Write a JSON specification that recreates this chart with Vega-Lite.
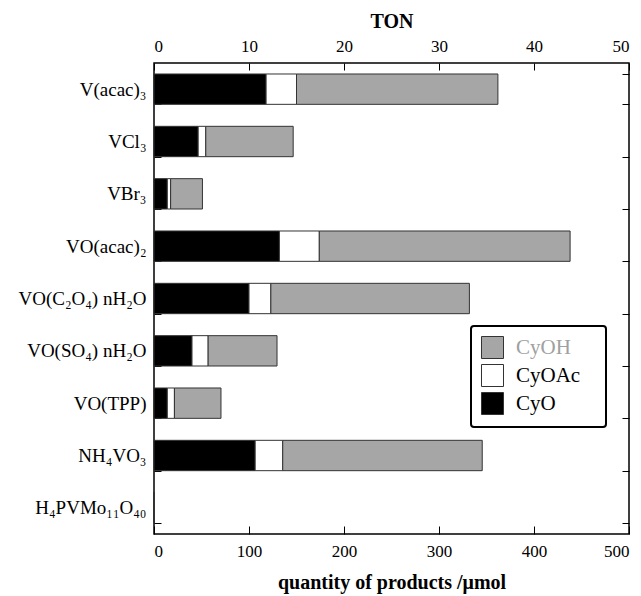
{
  "$schema": "https://vega.github.io/schema/vega-lite/v6.json",
  "autosize": {"type": "none"},
  "width": 475,
  "height": 471,
  "padding": {"left": 154, "top": 63, "right": 12, "bottom": 62},
  "background": "white",
  "config": {
    "view": {"stroke": "#000", "strokeWidth": 1.5},
    "font": "Liberation Serif",
    "axis": {"labelFont": "Liberation Serif", "titleFont": "Liberation Serif", "labelColor": "#000", "titleColor": "#000", "tickColor": "#000", "grid": false, "domain": false}
  },
  "data": {"values": [
    {"cat": "V(acac)₃", "product": "CyO", "value": 118},
    {"cat": "V(acac)₃", "product": "CyOAc", "value": 32},
    {"cat": "V(acac)₃", "product": "CyOH", "value": 212},
    {"cat": "VCl₃", "product": "CyO", "value": 46.5},
    {"cat": "VCl₃", "product": "CyOAc", "value": 8},
    {"cat": "VCl₃", "product": "CyOH", "value": 92},
    {"cat": "VBr₃", "product": "CyO", "value": 14},
    {"cat": "VBr₃", "product": "CyOAc", "value": 3.5},
    {"cat": "VBr₃", "product": "CyOH", "value": 33.5},
    {"cat": "VO(acac)₂", "product": "CyO", "value": 132},
    {"cat": "VO(acac)₂", "product": "CyOAc", "value": 42},
    {"cat": "VO(acac)₂", "product": "CyOH", "value": 264},
    {"cat": "VO(C₂O₄) nH₂O", "product": "CyO", "value": 100},
    {"cat": "VO(C₂O₄) nH₂O", "product": "CyOAc", "value": 23},
    {"cat": "VO(C₂O₄) nH₂O", "product": "CyOH", "value": 209},
    {"cat": "VO(SO₄) nH₂O", "product": "CyO", "value": 40},
    {"cat": "VO(SO₄) nH₂O", "product": "CyOAc", "value": 17},
    {"cat": "VO(SO₄) nH₂O", "product": "CyOH", "value": 72.5},
    {"cat": "VO(TPP)", "product": "CyO", "value": 14},
    {"cat": "VO(TPP)", "product": "CyOAc", "value": 7.5},
    {"cat": "VO(TPP)", "product": "CyOH", "value": 49},
    {"cat": "NH₄VO₃", "product": "CyO", "value": 106.5},
    {"cat": "NH₄VO₃", "product": "CyOAc", "value": 29},
    {"cat": "NH₄VO₃", "product": "CyOH", "value": 210},
    {"cat": "H₄PVMo₁₁O₄₀", "product": "CyO", "value": 0},
    {"cat": "H₄PVMo₁₁O₄₀", "product": "CyOAc", "value": 0},
    {"cat": "H₄PVMo₁₁O₄₀", "product": "CyOH", "value": 0}
  ]},
  "layer": [
    {
      "mark": {"type": "bar", "stroke": "#333", "strokeWidth": 1},
      "encoding": {
        "y": {"field": "cat", "type": "nominal", "sort": null,
          "scale": {"paddingInner": 0.42, "paddingOuter": 0.21},
          "axis": {"orient": "left", "title": null, "labelFontSize": 19, "tickBand": "extent", "tickSize": -7, "labelPadding": 15, "tickWidth": 1}},
        "x": {"field": "value", "type": "quantitative", "stack": "zero",
          "scale": {"domain": [0, 500], "nice": false},
          "axis": {"orient": "bottom", "values": [0, 100, 200, 300, 400, 500], "tickSize": -8, "labelFontSize": 17, "labelPadding": 17, "title": "quantity of products /μmol", "titleFontSize": 20, "titleFontWeight": "bold", "titlePadding": 13}},
        "color": {"field": "product", "type": "nominal",
          "scale": {"domain": ["CyOH", "CyOAc", "CyO"], "range": ["#a6a6a6", "#ffffff", "#000000"]},
          "legend": {"orient": "none", "legendX": 317, "legendY": 263, "title": null,
            "symbolType": "square", "symbolSize": 484, "symbolStrokeColor": "#333", "symbolStrokeWidth": 1,
            "labelFont": "Liberation Serif", "labelFontSize": 21, "labelOffset": 12, "rowPadding": 1,
            "padding": 10, "strokeColor": "#000", "fillColor": "#fff", "cornerRadius": 3,
            "encode": {"legend": {"update": {"strokeWidth": {"value": 2}}},
                       "labels": {"update": {
                         "text": {"signal": "datum.label + '\u00a0\u00a0\u00a0\u200b'"},
                         "fill": {"signal": "datum.value === 'CyOH' ? '#a0a0a0' : '#000'"}}}}}}
      }
    },
    {
      "mark": {"type": "bar", "opacity": 0},
      "encoding": {
        "y": {"field": "cat", "type": "nominal", "sort": null,
          "axis": {"orient": "right", "title": null, "labels": false, "tickBand": "extent", "tickSize": -7}},
        "x": {"field": "value", "type": "quantitative", "stack": "zero",
          "axis": {"orient": "top", "values": [0, 100, 200, 300, 400, 500], "labelExpr": "datum.value / 10", "tickSize": -7, "labelFontSize": 17, "labelPadding": 15, "title": "TON", "titleFontSize": 20, "titleFontWeight": "bold", "titlePadding": 6}}
      }
    }
  ],
  "resolve": {"axis": {"x": "independent", "y": "independent"}}
}
